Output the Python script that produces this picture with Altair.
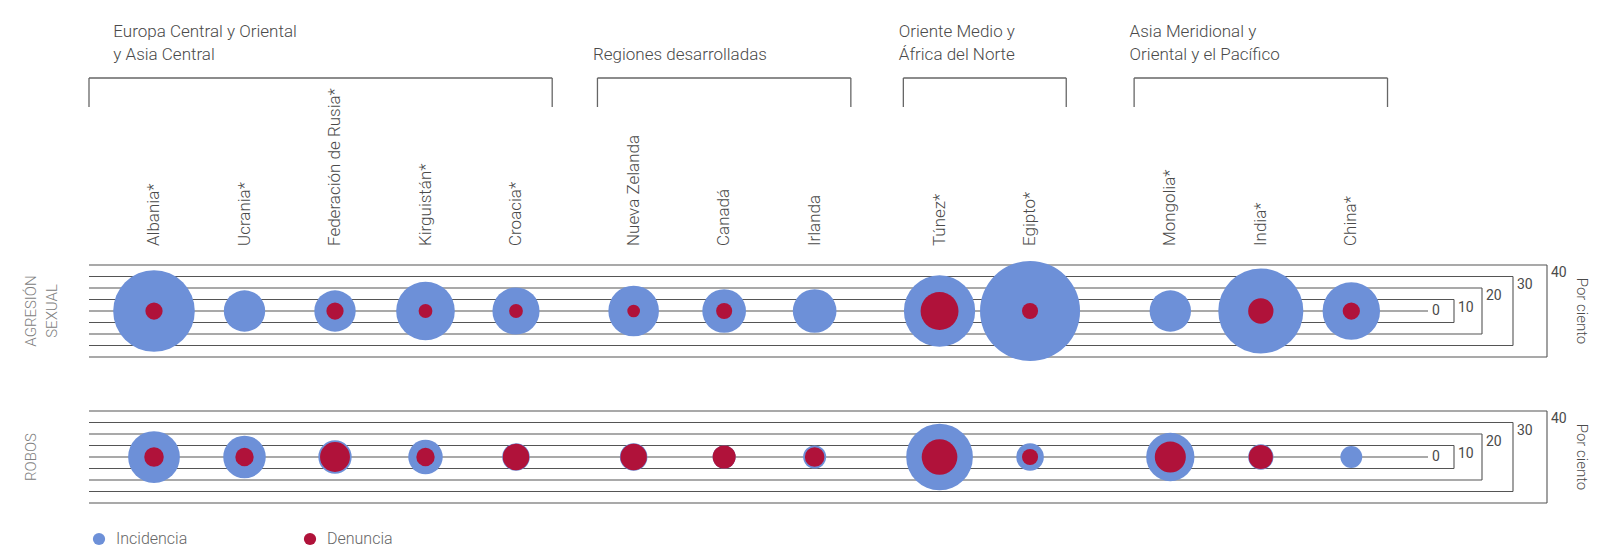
import altair as alt
import pandas as pd

# ---------------- data ----------------
countries = ["Albania*", "Ucrania*", "Federación de Rusia*", "Kirguistán*", "Croacia*",
             "Nueva Zelanda", "Canadá", "Irlanda", "Túnez*", "Egipto*",
             "Mongolia*", "India*", "China*"]
country_group = [0, 0, 0, 0, 0, 1, 1, 1, 2, 2, 3, 3, 3]
group_names = ["Europa Central y Oriental\ny Asia Central",
               "Regiones desarrolladas",
               "Oriente Medio y\nÁfrica del Norte",
               "Asia Meridional y\nOriental y el Pacífico"]
row_names = ["AGRESIÓN\nSEXUAL", "ROBOS"]
sexual_incidence = [35.5, 18, 18, 25.5, 20.5, 22, 19, 19, 31, 43.5, 18, 37, 25]
sexual_denuncia = [7.5, None, 7.5, 6, 6, 5.5, 7, None, 16.5, 7, None, 11, 7.5]
robbery_incidence = [22.5, 18.5, 14.5, 15, 12, 12, 10, 10, 29, 12, 21, 11, 9.5]
robbery_denuncia = [8.5, 8, 13, 8, 11.5, 11.5, 10, 8.5, 15.5, 7, 13.5, 10.5, None]
scale_levels = [0, 10, 20, 30, 40]
unit_label = "Por ciento"
legend_labels = ["Incidencia", "Denuncia"]

# ---------------- layout / style ----------------
W, H = 1583, 542
PX_PER_PCT = 2.3            # circle diameter in px per percentage point
SLOT_PX = 90.5
FIRST_SLOT_PX = 146
GROUP_SHIFT = [0, 0.30, 0.68, 1.23]
ROW_CENTER_PX = [303, 449]
LINE_START_PX = 81
LEVEL_END_PX = [1420, 1446, 1474, 1505, 1539]
GROUP_LINE_PX = [24, 47]
BLUE = "#6d90d8"
RED = "#b0123a"
LINE = "#555555"
TEXT = "#4a4a4a"
FONT = "Roboto"


def px_to_slot(px):
    return (px - FIRST_SLOT_PX) / SLOT_PX


def px_to_units(py):
    return py / PX_PER_PCT


x_scale = alt.Scale(domain=[px_to_slot(0), px_to_slot(W)], nice=False, zero=False)
y_scale = alt.Scale(domain=[0, H / PX_PER_PCT], reverse=True, nice=False, zero=False)
size_scale = alt.Scale(type="pow", exponent=2, domain=[0, 40],
                       range=[0, (40 * PX_PER_PCT) ** 2])

slots = [i + GROUP_SHIFT[g] for i, g in enumerate(country_group)]
row_center = [px_to_units(p) for p in ROW_CENTER_PX]

# points
recs = []
for r, (inc, den) in enumerate([(sexual_incidence, sexual_denuncia),
                                (robbery_incidence, robbery_denuncia)]):
    for i, c in enumerate(countries):
        recs.append(dict(country=c, slot=slots[i], yc=row_center[r],
                         incidencia=inc[i], denuncia=den[i]))
points = pd.DataFrame(recs)

# guide lines (size key)
line_recs, edge_recs = [], []
for r in range(2):
    c = row_center[r]
    for k, v in enumerate(scale_levels):
        xs = px_to_slot(LINE_START_PX)
        xe = px_to_slot(LEVEL_END_PX[k])
        offs = [0] if v == 0 else [-v / 2, v / 2]
        for o in offs:
            line_recs.append(dict(x=xs, x2=xe, y=c + o))
        edge_recs.append(dict(x=xe, y=c - v / 2, y2=c + v / 2, label=str(v), zero=(v == 0)))
lines = pd.DataFrame(line_recs)
edges = pd.DataFrame(edge_recs)

X = lambda f: alt.X(f, scale=x_scale, axis=None)
Y = lambda f: alt.Y(f, scale=y_scale, axis=None)

h_lines = alt.Chart(lines).mark_rule(color=LINE, strokeWidth=1.1).encode(
    x=X("x:Q"), x2="x2:Q", y=Y("y:Q"))
v_lines = alt.Chart(edges).transform_filter("!datum.zero").mark_rule(
    color=LINE, strokeWidth=1.1).encode(x=X("x:Q"), y=Y("y:Q"), y2="y2:Q")
level_labels = alt.Chart(edges).transform_filter("!datum.zero").mark_text(
    align="left", baseline="top", dx=4, dy=1, fontSize=14, font=FONT, color=TEXT).encode(
    x=X("x:Q"), y=Y("y:Q"), text="label:N")
zero_label = alt.Chart(edges).transform_filter("datum.zero").mark_text(
    align="left", baseline="middle", dx=4, fontSize=14, font=FONT, color=TEXT).encode(
    x=X("x:Q"), y=Y("y:Q"), text="label:N")

blue = alt.Chart(points).mark_circle(opacity=1, color=BLUE).encode(
    x=X("slot:Q"), y=Y("yc:Q"),
    size=alt.Size("incidencia:Q", scale=size_scale, legend=None))
red = alt.Chart(points).transform_filter("isValid(datum.denuncia)").mark_circle(
    opacity=1, color=RED).encode(
    x=X("slot:Q"), y=Y("yc:Q"),
    size=alt.Size("denuncia:Q", scale=size_scale, legend=None))

# headers
cdf = pd.DataFrame(dict(country=countries, slot=slots))
country_labels = alt.Chart(cdf).mark_text(
    angle=270, align="left", baseline="middle", fontSize=17, font=FONT,
    fontWeight=300, color=TEXT).encode(x=X("slot:Q"), y=alt.value(238), text="country:N")

g_recs, gl_recs, tick_recs = [], [], []
for g, name in enumerate(group_names):
    gs = [s for s, gg in zip(slots, country_group) if gg == g]
    xs = px_to_slot(LINE_START_PX) if g == 0 else min(gs) - 0.4
    xe = max(gs) + 0.4
    g_recs.append(dict(xs=xs, xe=xe))
    tick_recs += [dict(x=xs), dict(x=xe)]
    parts = name.split("\n")
    start = len(GROUP_LINE_PX) - len(parts)
    for j, part in enumerate(parts):
        gl_recs.append(dict(text=part, xl=min(gs) - 0.45,
                            ly=px_to_units(GROUP_LINE_PX[start + j])))
gdf = pd.DataFrame(g_recs)
gldf = pd.DataFrame(gl_recs)
tdf = pd.DataFrame(tick_recs)

group_labels = alt.Chart(gldf).mark_text(
    align="left", baseline="middle", fontSize=17,
    font=FONT, fontWeight=300, color=TEXT).encode(x=X("xl:Q"), y=Y("ly:Q"), text="text:N")
bracket_h = alt.Chart(gdf).mark_rule(color="#666", strokeWidth=1.3).encode(
    x=X("xs:Q"), x2="xe:Q", y=alt.value(70))
bracket_v = alt.Chart(tdf).mark_rule(color="#666", strokeWidth=1.3).encode(
    x=X("x:Q"), y=alt.value(70), y2=alt.value(99))

rdf = pd.DataFrame(dict(name=row_names, yc=row_center))
row_labels = alt.Chart(rdf).mark_text(
    angle=270, align="center", baseline="middle", lineBreak="\n", lineHeight=21,
    fontSize=15, font=FONT, fontWeight=300, color="#808080").encode(
    x=alt.value(23), y=Y("yc:Q"), text="name:N")

udf = pd.DataFrame(dict(name=[unit_label, unit_label], yc=row_center))
unit_labels = alt.Chart(udf).mark_text(
    angle=90, align="center", baseline="middle", fontSize=15, font=FONT,
    fontWeight=300, color=TEXT).encode(x=alt.value(1574), y=Y("yc:Q"), text="name:N")

# legend
LEG_X = [91, 302]
LEG_Y = 531
legend_layers = []
for k, (lab, col) in enumerate(zip(legend_labels, [BLUE, RED])):
    ldf = pd.DataFrame(dict(label=[lab]))
    legend_layers.append(alt.Chart(ldf).mark_circle(opacity=1, color=col, size=150).encode(
        x=alt.value(LEG_X[k]), y=alt.value(LEG_Y)))
    legend_layers.append(alt.Chart(ldf).mark_text(
        align="left", baseline="middle", fontSize=16, font=FONT, fontWeight=300,
        color="#666").encode(x=alt.value(LEG_X[k] + 17), y=alt.value(LEG_Y), text="label:N"))

chart = alt.layer(
    h_lines, v_lines, level_labels, zero_label, blue, red,
    country_labels, group_labels, bracket_h, bracket_v, row_labels, unit_labels,
    *legend_layers
).properties(
    width=W, height=H, padding=0, autosize=alt.AutoSizeParams(type="none")
).configure_view(stroke=None)

chart.save("out.html", embed_options={"renderer": "svg", "actions": False})
